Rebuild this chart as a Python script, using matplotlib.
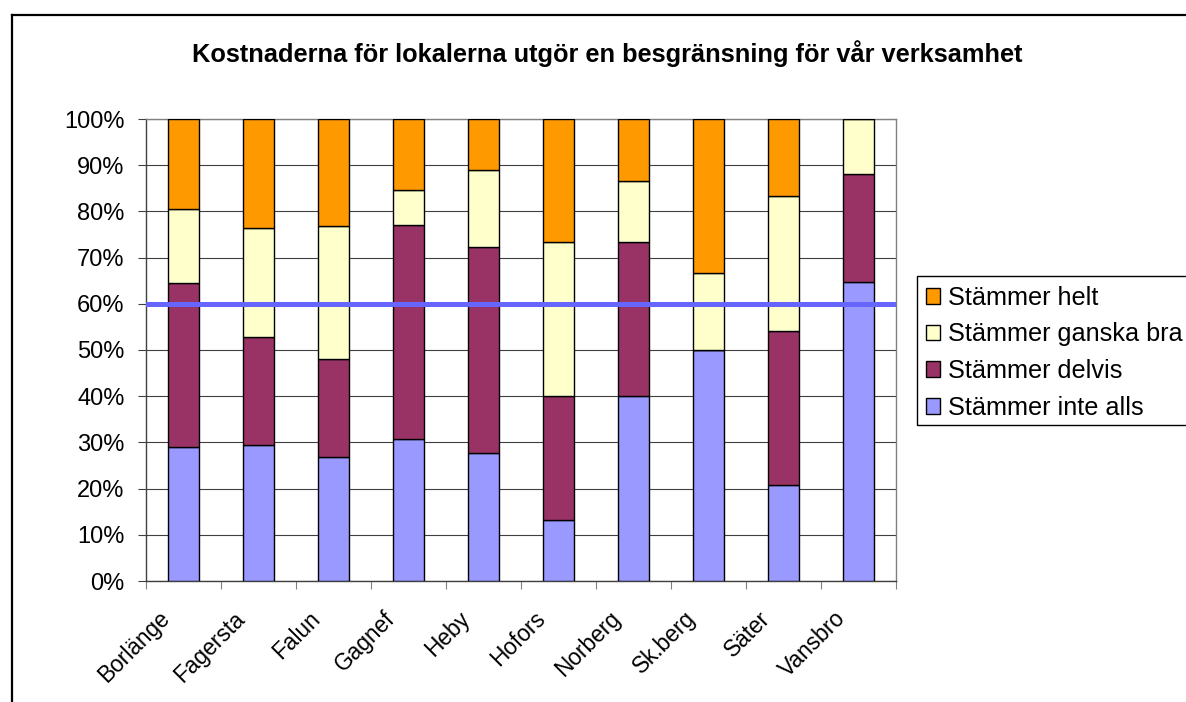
import matplotlib
matplotlib.use('Agg')
import matplotlib.pyplot as plt
import matplotlib.transforms as mtransforms
from matplotlib.lines import Line2D
from matplotlib.patches import Rectangle
import numpy as np

plt.rcParams['font.family'] = ['Liberation Sans', 'DejaVu Sans']

# data (andel svar i procent)
kommuner = ['Borlänge', 'Fagersta', 'Falun', 'Gagnef', 'Heby',
            'Hofors', 'Norberg', 'Sk.berg', 'Säter', 'Vansbro']
inte_alls = [29.0, 29.4, 26.9, 30.8, 27.8, 13.3, 40.0, 50.0, 20.8, 64.7]
delvis = [35.5, 23.5, 21.2, 46.2, 44.4, 26.7, 33.3, 0.0, 33.3, 23.5]
ganska_bra = [16.1, 23.5, 28.8, 7.7, 16.7, 33.3, 13.3, 16.7, 29.2, 11.8]
helt = [19.4, 23.5, 23.1, 15.4, 11.1, 26.7, 13.3, 33.3, 16.7, 0.0]
y_ticks = [0, 10, 20, 30, 40, 50, 60, 70, 80, 90, 100]
grans = 60

serier = [('Stämmer inte alls', inte_alls, '#9999FF'),
          ('Stämmer delvis', delvis, '#993366'),
          ('Stämmer ganska bra', ganska_bra, '#FFFFCC'),
          ('Stämmer helt', helt, '#FF9900')]

W, H = 1186, 702
fig = plt.figure(figsize=(W / 100, H / 100), dpi=100)
ax = fig.add_axes([146 / W, 1 - 581 / H, 750 / W, 462 / H])

x = np.arange(len(kommuner))
botten = np.zeros(len(kommuner))
handles = []
for namn, varden, farg in serier:
    b = ax.bar(x, varden, 0.41, bottom=botten, color=farg,
               edgecolor='black', linewidth=1.0, label=namn, zorder=3)
    botten += np.array(varden)
    handles.append(b)

# 60%-linjen
ax.axhline(grans, color='#6666FF', linewidth=3.6, zorder=4)

# axlar och rutnät
ax.set_xlim(-0.5, len(kommuner) - 0.5)
ax.set_ylim(0, 100)
ax.set_yticks(y_ticks, [f'{v}%' for v in y_ticks])
ax.yaxis.grid(True, color='#404040', linewidth=0.8, zorder=0)
ax.tick_params(axis='y', length=5.5, width=0.8, color='#404040', pad=10, labelsize=17)

# kategorietiketter, snett och lite till vänster om stapeln
ax.set_xticks(x, [])
ax.set_xticks(np.arange(-0.5, len(kommuner)), minor=True)
ax.tick_params(axis='x', which='major', length=0)
ax.tick_params(axis='x', which='minor', length=5.5, width=0.8, color='#808080')
etikett_trans = mtransforms.offset_copy(ax.get_xaxis_transform(), fig=fig,
                                        x=-25, y=-26, units='dots')
for xi, namn in zip(x, kommuner):
    ax.text(xi, 0, namn, transform=etikett_trans, rotation=45,
            rotation_mode='anchor', ha='right', va='top', fontsize=16.3)

for s in ['top', 'right']:
    ax.spines[s].set_color('#808080')
for s in ['left', 'bottom']:
    ax.spines[s].set_color('#404040')
for s in ax.spines.values():
    s.set_linewidth(1.0)

# titel
fig.text(607 / W, 1 - 62 / H,
         'Kostnaderna för lokalerna utgör en besgränsning för vår verksamhet',
         ha='center', va='baseline', fontsize=18.3, fontweight='bold')

# legend (helt överst), ramen går ut över bildkanten
leg = fig.legend(handles[::-1], [s[0] for s in serier][::-1],
                 loc='upper left', bbox_to_anchor=(917 / W, 1 - 277 / H),
                 fontsize=18.2, frameon=False,
                 borderpad=0.35, labelspacing=0.5,
                 handlelength=0.56, handleheight=0.56, handletextpad=0.33,
                 borderaxespad=0)
fig.add_artist(Rectangle((917 / W, 1 - 425 / H), 300 / W, 149 / H,
                         transform=fig.transFigure, fill=False,
                         edgecolor='black', linewidth=1.0))

# ram runt diagrammet
fig.add_artist(Line2D([11.5 / W, 1], [1 - 14.5 / H, 1 - 14.5 / H],
                      color='black', linewidth=1.6))
fig.add_artist(Line2D([11.5 / W, 11.5 / W], [0, 1 - 14.5 / H],
                      color='black', linewidth=1.6))

plt.savefig('out.png', dpi=100)
plt.close()
